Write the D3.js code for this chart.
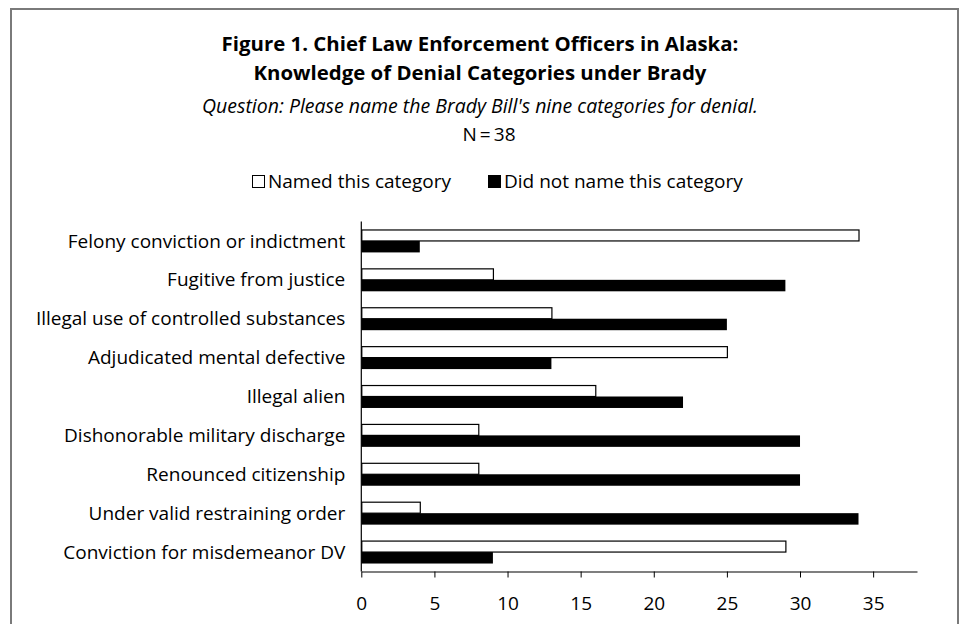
<!DOCTYPE html>
<html>
<head>
<meta charset="utf-8">
<script src="https://cdn.jsdelivr.net/npm/d3@7"></script>
<style>
  body { margin: 0; background: #fff; }
  svg { display: block; font-family: "Open Sans", Lato, sans-serif; }
</style>
</head>
<body>
<svg id="chart" width="961" height="624"></svg>
<script>
"use strict";
// categories, top to bottom
const categories = [
    "Felony conviction or indictment",
    "Fugitive from justice",
    "Illegal use of controlled substances",
    "Adjudicated mental defective",
    "Illegal alien",
    "Dishonorable military discharge",
    "Renounced citizenship",
    "Under valid restraining order",
    "Conviction for misdemeanor DV"
];
const named = [34, 9, 13, 25, 16, 8, 8, 4, 29];
const notNamed = [4, 29, 25, 13, 22, 30, 30, 34, 9];
const seriesNames = ["Named this category", "Did not name this category"];
const xTicks = [0, 5, 10, 15, 20, 25, 30, 35];

const svg = d3.select("#chart");
const W = 961;
const margin = { left: 361.3, right: 44, top: 221.5, bottom: 52.5 };
const plotW = W - margin.left - margin.right;
const plotH = 624 - margin.top - margin.bottom;

// frame round the whole figure (bottom edge is off the page)
svg.append("rect")
    .attr("x", 11).attr("y", 9)
    .attr("width", 947).attr("height", 640)
    .attr("fill", "none")
    .attr("stroke", "#7a7a7a")
    .attr("stroke-width", 2);

const cx = 480;
svg.append("text").attr("x", cx).attr("y", 51)
    .attr("text-anchor", "middle").attr("font-size", 20.4).attr("font-weight", "bold")
    .text("Figure 1. Chief Law Enforcement Officers in Alaska:");
svg.append("text").attr("x", cx).attr("y", 80)
    .attr("text-anchor", "middle").attr("font-size", 20.4).attr("font-weight", "bold")
    .text("Knowledge of Denial Categories under Brady");
svg.append("text").attr("x", cx).attr("y", 113)
    .attr("text-anchor", "middle").attr("font-size", 19.5).attr("font-style", "italic")
    .text("Question: Please name the Brady Bill's nine categories for denial.");
svg.append("text").attr("x", 489).attr("y", 141)
    .attr("text-anchor", "middle").attr("font-size", 19)
    .text("N\u2009=\u200938");

// legend
const legend = svg.append("g").attr("transform", "translate(252,188)");
const leg1 = legend.append("g");
leg1.append("rect").attr("x", 0.5).attr("y", -12.5).attr("width", 12).attr("height", 12)
    .attr("fill", "#fff").attr("stroke", "#000").attr("stroke-width", 1);
leg1.append("text").attr("x", 16).attr("y", 0).attr("font-size", 19).text(seriesNames[0]);
const leg2 = legend.append("g").attr("transform", "translate(236,0)");
leg2.append("rect").attr("x", 0).attr("y", -13).attr("width", 13).attr("height", 13)
    .attr("fill", "#000");
leg2.append("text").attr("x", 16).attr("y", 0).attr("font-size", 19).text(seriesNames[1]);

const g = svg.append("g").attr("transform", `translate(${margin.left},${margin.top})`);

const x = d3.scaleLinear().domain([0, 38]).range([0, plotW]);
const y = d3.scaleBand().domain(categories).range([0, plotH]).paddingInner(0.41).paddingOuter(0.205);
const sub = d3.scaleBand().domain([0, 1]).range([0, y.bandwidth()]);

const rows = g.selectAll(".row").data(categories).join("g")
    .attr("class", "row")
    .attr("transform", d => `translate(0,${y(d)})`);

rows.append("rect")
    .attr("x", 0.5)
    .attr("y", sub(0) + 0.5)
    .attr("width", (d, i) => x(named[i]))
    .attr("height", sub.bandwidth() - 0.5)
    .attr("fill", "#fff").attr("stroke", "#000").attr("stroke-width", 1.2);

rows.append("rect")
    .attr("x", 0)
    .attr("y", sub(1))
    .attr("width", (d, i) => x(notNamed[i]))
    .attr("height", sub.bandwidth())
    .attr("fill", "#000");

// category labels
g.selectAll(".cat").data(categories).join("text")
    .attr("class", "cat")
    .attr("x", -16)
    .attr("y", d => y(d) + y.bandwidth() / 2)
    .attr("dy", "0.35em")
    .attr("text-anchor", "end")
    .attr("font-size", 19)
    .text(d => d);

// y axis line
g.append("line").attr("x1", 0).attr("x2", 0).attr("y1", 0).attr("y2", plotH)
    .attr("stroke", "#000").attr("stroke-width", 1.2);

// x axis
const xAxis = g.append("g").attr("transform", `translate(0,${plotH})`)
    .call(d3.axisBottom(x).tickValues(xTicks).tickSize(6).tickPadding(19).tickSizeOuter(0));
xAxis.select(".domain").attr("stroke", "#000").attr("stroke-width", 1.2);
xAxis.selectAll(".tick line").attr("stroke", "#000");
xAxis.selectAll("text").attr("font-size", 19).attr("font-family", "\"Open Sans\", sans-serif").attr("fill", "#000");
</script>
</body>
</html>
